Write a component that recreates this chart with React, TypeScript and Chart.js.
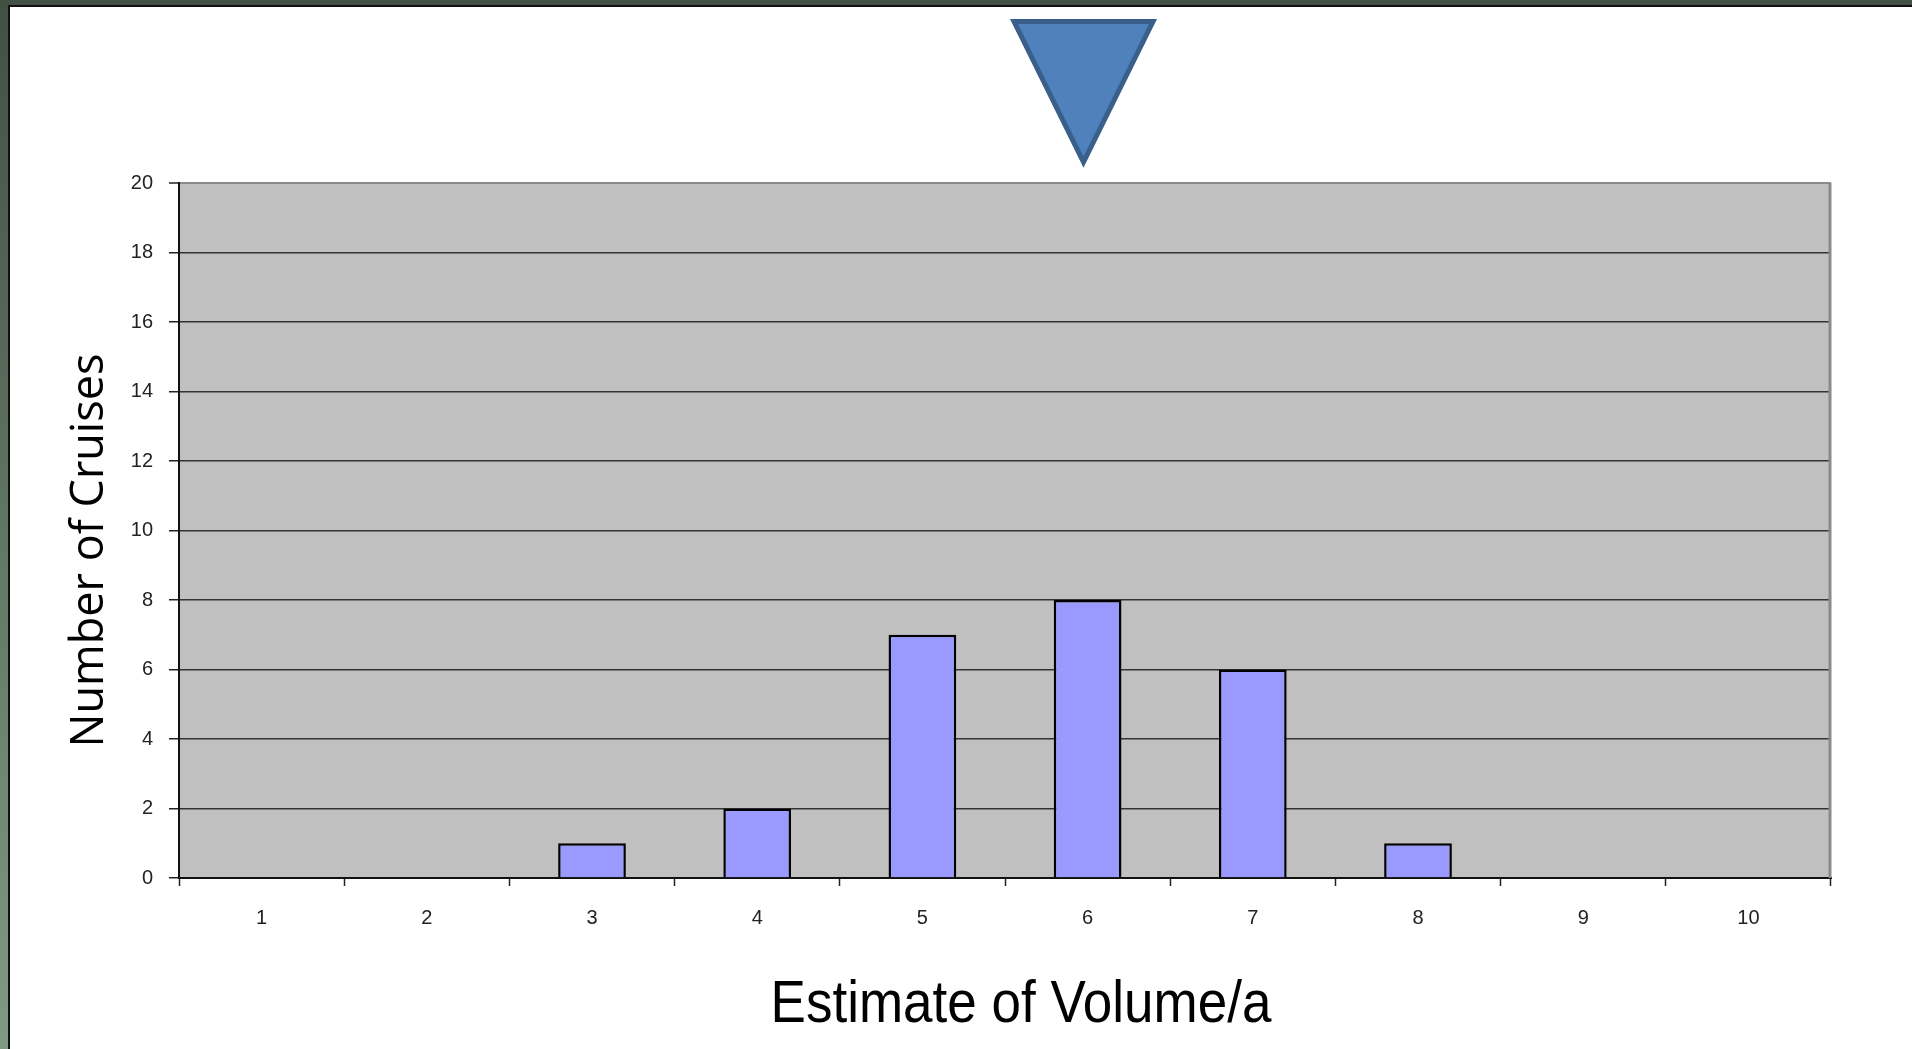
import React, { useEffect, useRef } from "react";
import { Chart, registerables } from "chart.js";

Chart.register(...registerables);

const categories = ["1", "2", "3", "4", "5", "6", "7", "8", "9", "10"];
const cruiseCounts = [0, 0, 1, 2, 7, 8, 6, 1, 0, 0];
const yMin = 0;
const yMax = 20;
const yStep = 2;
const xTitle = "Estimate of Volume/a";
const yTitle = "Number of Cruises";

const W = 1912;
const H = 1049;

const plotBg = {
  id: "plotBg",
  beforeDraw(chart: any) {
    const { ctx, chartArea } = chart;
    ctx.save();
    ctx.fillStyle = "#c0c0c0";
    ctx.fillRect(chartArea.left, chartArea.top, chartArea.right - chartArea.left, chartArea.bottom - chartArea.top);
    ctx.restore();
  },
  afterDatasetsDraw(chart: any) {
    const { ctx, chartArea } = chart;
    ctx.save();
    ctx.strokeStyle = "#8a8a8a";
    ctx.lineWidth = 3;
    ctx.beginPath();
    ctx.moveTo(chartArea.right - 1, chartArea.top);
    ctx.lineTo(chartArea.right - 1, chartArea.bottom);
    ctx.stroke();
    ctx.restore();
  },
};

const axisTitles = {
  id: "axisTitles",
  afterDraw(chart: any) {
    const { ctx, chartArea } = chart;
    ctx.save();
    ctx.fillStyle = "#000";
    ctx.textAlign = "center";
    ctx.textBaseline = "alphabetic";
    // x title
    ctx.save();
    ctx.font = '53px "Liberation Sans", Arial, sans-serif';
    ctx.translate((chartArea.left + chartArea.right) / 2 + 16, 1022);
    ctx.scale(1, 1.12);
    ctx.fillText(xTitle, 0, 0);
    ctx.restore();
    // y title
    ctx.save();
    ctx.font = '45px "Open Sans", sans-serif';
    ctx.translate(103, (chartArea.top + chartArea.bottom) / 2 + 20);
    ctx.rotate(-Math.PI / 2);
    ctx.fillText(yTitle, 0, 0);
    ctx.restore();
    ctx.restore();
  },
};

export default function App() {
  const canvasRef = useRef<HTMLCanvasElement | null>(null);

  useEffect(() => {
    if (!canvasRef.current) return;
    const tickFont = { family: '"Liberation Sans", Arial, sans-serif', size: 20 };
    const chart = new Chart(canvasRef.current, {
      type: "bar",
      data: {
        labels: categories,
        datasets: [
          {
            data: cruiseCounts,
            backgroundColor: "#9999ff",
            borderColor: "#000000",
            borderWidth: 2.5,
            categoryPercentage: 0.41,
            barPercentage: 1,
          },
        ],
      },
      options: {
        responsive: false,
        animation: false,
        devicePixelRatio: 1,
        layout: { padding: { top: 183, right: 81, left: 0, bottom: 0 } },
        plugins: {
          legend: { display: false },
          tooltip: { enabled: false },
          title: { display: false },
        },
        scales: {
          x: {
            offset: true,
            grid: {
              offset: true,
              drawOnChartArea: false,
              drawTicks: true,
              tickLength: 8,
              tickColor: "#222",
              tickWidth: 1.5,
            },
            border: { color: "#111", width: 2 },
            ticks: { color: "#222", font: tickFont, padding: 20 },
            afterFit: (s: any) => {
              s.height = 171;
            },
          },
          y: {
            min: yMin,
            max: yMax,
            ticks: { stepSize: yStep, color: "#222", font: tickFont, padding: 16 },
            grid: {
              color: (c: any) => (c.tick && c.tick.value === yMax ? "#8a8a8a" : "#333333"),
              lineWidth: (c: any) => (c.tick && c.tick.value === yMax ? 2 : 1.5),
              tickColor: "#222",
              tickLength: 10,
              tickWidth: 1.5,
            },
            border: { color: "#111", width: 2 },
            afterFit: (s: any) => {
              s.width = 179;
            },
          },
        },
      },
      plugins: [plotBg, axisTitles],
    });
    return () => chart.destroy();
  }, []);

  return (
    <div style={{ position: "fixed", left: 0, top: 0, width: W, height: H, background: "#ffffff", overflow: "hidden" }}>
      <div style={{ position: "absolute", left: 0, top: 0, width: W, height: 5, background: "#435046" }} />
      <div style={{ position: "absolute", left: 0, top: 5, width: W, height: 1.5, background: "#111" }} />
      <div
        style={{
          position: "absolute",
          left: 0,
          top: 0,
          width: 8,
          height: H,
          background: "linear-gradient(to bottom, #425044, #7f9a83)",
        }}
      />
      <div style={{ position: "absolute", left: 8, top: 5, width: 1.5, height: H, background: "#111" }} />
      <canvas ref={canvasRef} width={W} height={H} style={{ position: "absolute", left: 0, top: 0, width: W, height: H }} />
      <svg width={W} height={H} style={{ position: "absolute", left: 0, top: 0, pointerEvents: "none" }}>
        <polygon points="1014,21.5 1153,21.5 1083.5,162" fill="#4f81bd" stroke="#3a5f8b" strokeWidth={5} strokeLinejoin="miter" />
      </svg>
    </div>
  );
}
